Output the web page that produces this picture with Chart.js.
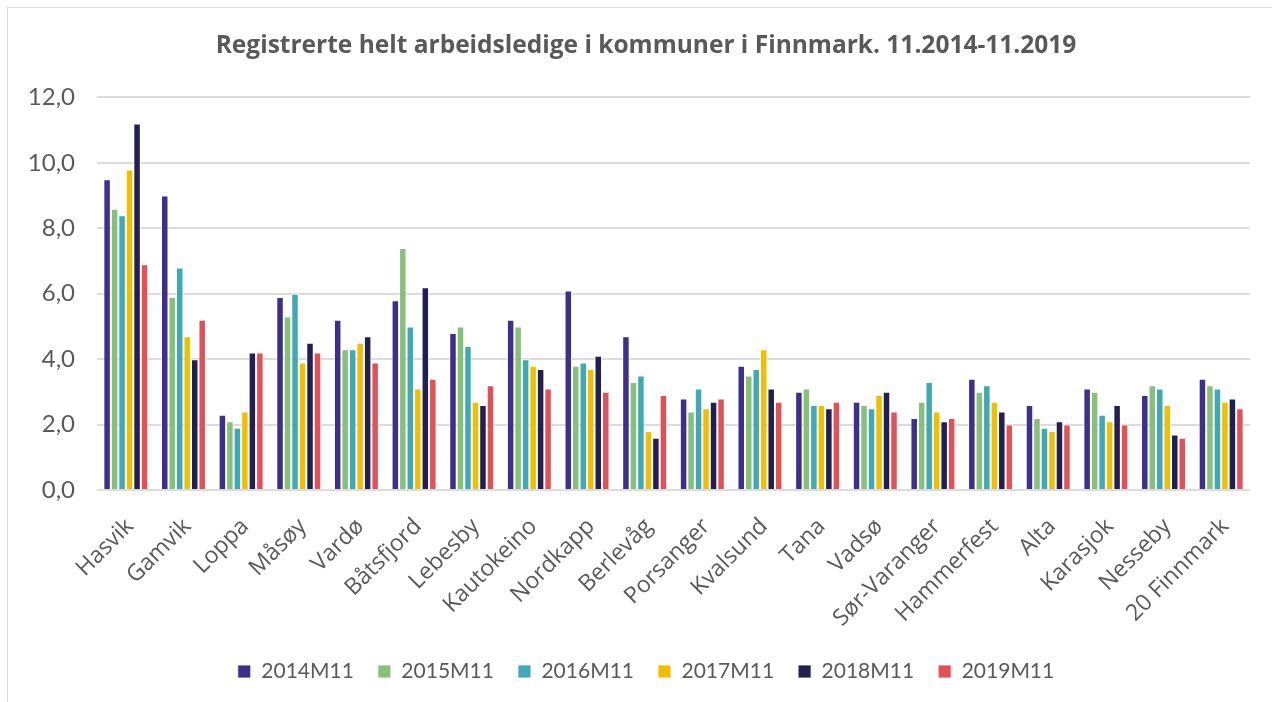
<!DOCTYPE html>
<html>
<head>
<meta charset="utf-8">
<script src="https://cdn.jsdelivr.net/npm/chart.js@4"></script>
<style>
  body { margin: 0; background: #fff; overflow: hidden; }
  #frame { position: absolute; left: 7px; top: 7px; width: 1300px; height: 720px; border: 1px solid #d9d9d9; }
  #chart { position: absolute; left: 0; top: 0; }
</style>
</head>
<body>
<div id="frame"></div>
<canvas id="chart" width="1272" height="702"></canvas>
<script>
const municipalities = ['Hasvik', 'Gamvik', 'Loppa', 'Måsøy', 'Vardø', 'Båtsfjord', 'Lebesby', 'Kautokeino',
  'Nordkapp', 'Berlevåg', 'Porsanger', 'Kvalsund', 'Tana', 'Vadsø', 'Sør-Varanger', 'Hammerfest',
  'Alta', 'Karasjok', 'Nesseby', '20 Finnmark'];

const y2014 = [9.5, 9.0, 2.3, 5.9, 5.2, 5.8, 4.8, 5.2, 6.1, 4.7, 2.8, 3.8, 3.0, 2.7, 2.2, 3.4, 2.6, 3.1, 2.9, 3.4];
const y2015 = [8.6, 5.9, 2.1, 5.3, 4.3, 7.4, 5.0, 5.0, 3.8, 3.3, 2.4, 3.5, 3.1, 2.6, 2.7, 3.0, 2.2, 3.0, 3.2, 3.2];
const y2016 = [8.4, 6.8, 1.9, 6.0, 4.3, 5.0, 4.4, 4.0, 3.9, 3.5, 3.1, 3.7, 2.6, 2.5, 3.3, 3.2, 1.9, 2.3, 3.1, 3.1];
const y2017 = [9.8, 4.7, 2.4, 3.9, 4.5, 3.1, 2.7, 3.8, 3.7, 1.8, 2.5, 4.3, 2.6, 2.9, 2.4, 2.7, 1.8, 2.1, 2.6, 2.7];
const y2018 = [11.2, 4.0, 4.2, 4.5, 4.7, 6.2, 2.6, 3.7, 4.1, 1.6, 2.7, 3.1, 2.5, 3.0, 2.1, 2.4, 2.1, 2.6, 1.7, 2.8];
const y2019 = [6.9, 5.2, 4.2, 4.2, 3.9, 3.4, 3.2, 3.1, 3.0, 2.9, 2.8, 2.7, 2.7, 2.4, 2.2, 2.0, 2.0, 2.0, 1.6, 2.5];

const seriesLabels = ['2014M11', '2015M11', '2016M11', '2017M11', '2018M11', '2019M11'];
const seriesValues = [y2014, y2015, y2016, y2017, y2018, y2019];
const seriesColors = ['#3d2f8b', '#86c17a', '#3fa9b5', '#f0c000', '#221f52', '#e15257'];

const yTicks = [0, 2, 4, 6, 8, 10, 12];

const textGray = '#595959';

// title and legend sit a bit right of the canvas centre in the original
const shiftTitleLegend = {
  id: 'shiftTitleLegend',
  afterLayout(chart) {
    if (chart.titleBlock) chart.titleBlock.left += 42;
    if (chart.legend) chart.legend.left += 42;
  },
};

const ctx = document.getElementById('chart').getContext('2d');

new Chart(ctx, {
  type: 'bar',
  data: {
    labels: municipalities,
    datasets: seriesLabels.map((label, i) => ({
      label,
      data: seriesValues[i],
      backgroundColor: seriesColors[i],
      borderColor: 'rgba(255,255,255,0.8)',
      borderWidth: 1,
      categoryPercentage: 0.78,
      barPercentage: 1.0,
    })),
  },
  options: {
    responsive: false,
    animation: false,
    devicePixelRatio: 1,
    layout: {
      padding: { left: 0, right: 22, top: 0, bottom: 10 },
    },
    plugins: {
      title: {
        display: true,
        text: 'Registrerte helt arbeidsledige i kommuner i Finnmark. 11.2014-11.2019',
        color: textGray,
        font: { family: 'Open Sans', size: 24.5, weight: 'bold', lineHeight: 1.2 },
        padding: { top: 31, bottom: 37 },
      },
      legend: {
        position: 'bottom',
        labels: {
          boxWidth: 13,
          boxHeight: 13,
          padding: 24,
          color: textGray,
          font: { family: 'Lato', size: 21 },
        },
      },
      tooltip: { enabled: false },
    },
    scales: {
      x: {
        grid: { display: false },
        border: { display: false },
        ticks: {
          autoSkip: false,
          minRotation: 45,
          maxRotation: 45,
          padding: 15,
          labelOffset: 4,
          color: textGray,
          font: { family: 'Open Sans', size: 23 },
        },
        afterFit(scale) {
          scale.height = 147;
        },
      },
      y: {
        min: 0,
        max: 12,
        border: { display: false },
        grid: { color: '#dcdcdc', lineWidth: 2, drawTicks: false },
        afterBuildTicks(scale) {
          scale.ticks = yTicks.map((v) => ({ value: v }));
        },
        ticks: {
          padding: 22,
          color: textGray,
          font: { family: 'Lato', size: 24 },
          callback: (v) => v.toFixed(1).replace('.', ','),
        },
        afterFit(scale) {
          scale.width = 97;
        },
      },
    },
  },
  plugins: [shiftTitleLegend],
});
</script>
</body>
</html>
